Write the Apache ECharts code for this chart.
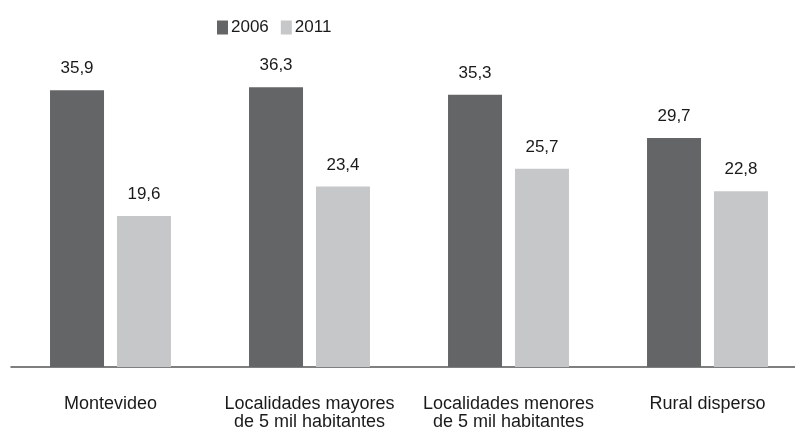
<!DOCTYPE html>
<html>
<head>
<meta charset="utf-8">
<script src="https://cdn.jsdelivr.net/npm/echarts@6/dist/echarts.min.js"></script>
<style>
  html, body { margin: 0; padding: 0; background: #fff; }
  #chart { width: 795px; height: 432px; }
</style>
</head>
<body>
<div id="chart"></div>
<script>
// Categories and yearly values
const categories = [
  'Montevideo',
  'Localidades mayores\nde 5 mil habitantes',
  'Localidades menores\nde 5 mil habitantes',
  'Rural disperso'
];
const years = ['2006', '2011'];
const values2006 = [35.9, 36.3, 35.3, 29.7];
const values2011 = [19.6, 23.4, 25.7, 22.8];

const FONT = '"Liberation Sans", Arial, sans-serif';
const fmt = v => String(v.value).replace('.', ',');

const chart = echarts.init(document.getElementById('chart'), null, { renderer: 'canvas' });
chart.setOption({
  animation: false,
  backgroundColor: '#ffffff',
  legend: {
    data: years,
    top: 14,
    left: 212,
    itemWidth: 11,
    itemHeight: 14,
    itemGap: 12,
    icon: 'rect',
    textStyle: { fontFamily: FONT, fontSize: 17, color: '#1a1a1a', padding: [0, 0, 0, -2] }
  },
  // the last category band runs slightly past the right edge
  grid: { left: 11, width: 796, top: 58.6, bottom: 65, containLabel: false, outerBoundsMode: 'none' },
  xAxis: {
    type: 'category',
    data: categories,
    axisLine: { lineStyle: { color: '#555555', width: 1.5 } },
    axisTick: { show: false },
    axisLabel: {
      fontFamily: FONT, fontSize: 18, color: '#1a1a1a',
      lineHeight: 18, margin: 28, interval: 0
    }
  },
  yAxis: {
    type: 'value', min: 0, max: 40,
    show: false,
    splitLine: { show: false }
  },
  series: [
    {
      name: '2006', type: 'bar', data: values2006,
      barWidth: 54, barGap: '24%',
      itemStyle: { color: '#646567' },
      label: { show: true, position: 'top', distance: 13, formatter: fmt,
               fontFamily: FONT, fontSize: 17, color: '#1a1a1a' }
    },
    {
      name: '2011', type: 'bar', data: values2011,
      barWidth: 54, barGap: '24%',
      itemStyle: { color: '#c6c7c9' },
      label: { show: true, position: 'top', distance: 13, formatter: fmt,
               fontFamily: FONT, fontSize: 17, color: '#1a1a1a' }
    }
  ]
});
</script>
</body>
</html>
